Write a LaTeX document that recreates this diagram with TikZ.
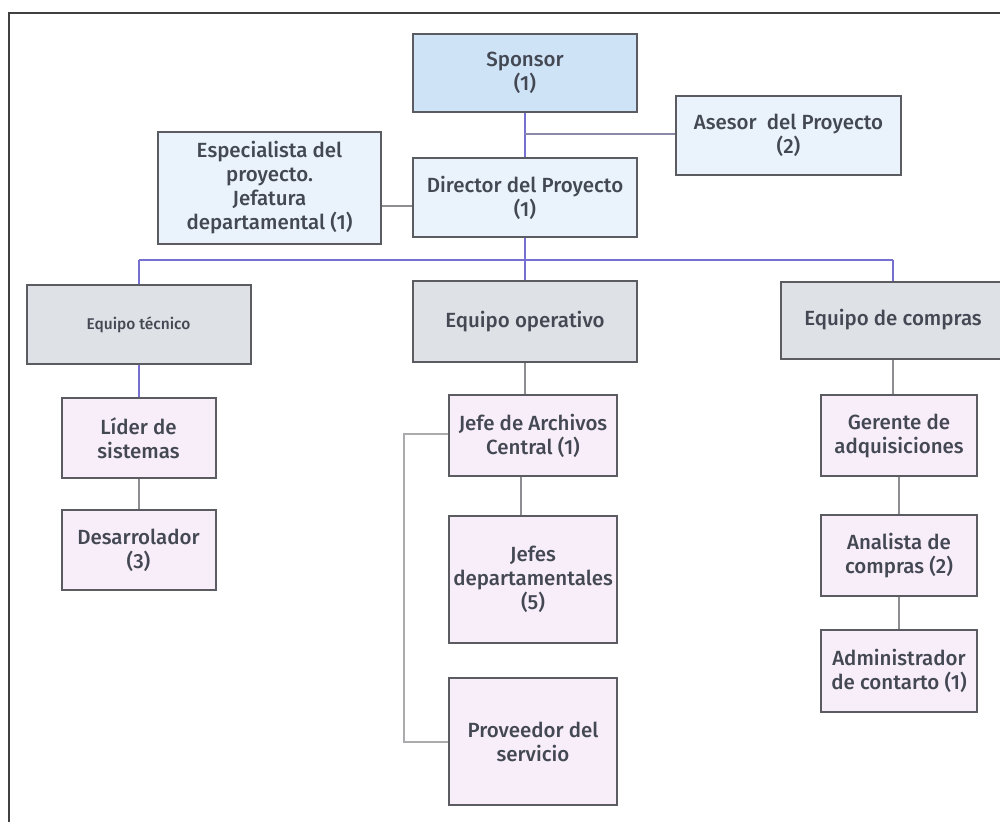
\documentclass[tikz,border=0pt]{standalone}
\usepackage{fontspec}
\setmainfont{Fira Sans}[UprightFont=* Medium, BoldFont=* Bold]
\definecolor{boxline}{HTML}{5A5C62}
\definecolor{txt}{HTML}{434853}
\definecolor{sponsorfill}{HTML}{CFE3F7}
\definecolor{lightblue}{HTML}{EAF3FC}
\definecolor{teamfill}{HTML}{DEE1E6}
\definecolor{pinkfill}{HTML}{F8EEFA}
\definecolor{blueln}{HTML}{7670D2}
\definecolor{greyln}{HTML}{8E8E92}
\definecolor{lightln}{HTML}{ABABAE}
\definecolor{greyblueln}{HTML}{8A8AA8}
\begin{document}
\begin{tikzpicture}[x=1pt,y=-1pt,
  box/.style={draw=boxline, line width=2pt, align=center, inner sep=2pt, text=txt,
    font=\fontsize{20.5}{24}\selectfont},
  sbox/.style={box, fill=sponsorfill},
  lbbox/.style={box, fill=lightblue},
  teambox/.style={box, fill=teamfill},
  pbox/.style={box, fill=pinkfill},
  blueline/.style={draw=blueln, line width=2pt},
  greyline/.style={draw=greyln, line width=2pt},
  lightline/.style={draw=lightln, line width=2pt},
  gbline/.style={draw=greyblueln, line width=2pt},
  frameline/.style={draw=black!75, line width=1.3pt}]
\fill[white] (0,0) rectangle (1000,821);
\useasboundingbox (0,0) rectangle (1000,821);
\draw[frameline] (1001,13) -- (9,13) -- (9,822);

% top level
\node[sbox, minimum width=224pt, minimum height=78pt] (sponsor) at (525,73) {Sponsor\\(1)};
\node[lbbox, minimum width=225pt, minimum height=79pt] (asesor) at (788.5,135.5) {Asesor\ \ del Proyecto\\(2)};
\node[lbbox, minimum width=223pt, minimum height=112pt] (espec) at (269.5,188) {Especialista del\\proyecto.\\Jefatura\\departamental (1)};
\node[lbbox, minimum width=224pt, minimum height=79pt] (director) at (525,197.5) {Director del Proyecto\\(1)};

% teams
\node[teambox, minimum width=224pt, minimum height=79pt, font=\fontsize{15.5}{19}\selectfont] (eqtec) at (138.5,324.5) {Equipo técnico};
\node[teambox, minimum width=224pt, minimum height=81pt] (eqop) at (525,321.5) {Equipo operativo};
\node[teambox, minimum width=224pt, minimum height=77pt] (eqcomp) at (893,320) {Equipo de compras};

% left column
\node[pbox, minimum width=154pt, minimum height=80pt] (lider) at (138.5,438) {Líder de\\sistemas};
\node[pbox, minimum width=154pt, minimum height=80pt] (desarr) at (138.5,550) {Desarrolador\\(3)};

% middle column
\node[pbox, minimum width=168pt, minimum height=81pt] (jefearch) at (533,435.5) {Jefe de Archivos\\Central (1)};
\node[pbox, minimum width=168pt, minimum height=127pt] (jefes) at (533,579.5) {Jefes\\departamentales\\(5)};
\node[pbox, minimum width=168pt, minimum height=127pt] (prov) at (533,741.5) {Proveedor del\\servicio};

% right column
\node[pbox, minimum width=156pt, minimum height=81pt] (gerente) at (899,435.5) {Gerente de\\adquisiciones};
\node[pbox, minimum width=156pt, minimum height=81pt] (analista) at (899,555.5) {Analista de\\compras (2)};
\node[pbox, minimum width=156pt, minimum height=82pt] (admin) at (899,671) {Administrador\\de contarto (1)};

% helper coordinates
\coordinate (asj) at (525,134);
\coordinate (y206) at (0,206);
\coordinate (bus) at (525,260);
\coordinate (busL) at (138.5,260);
\coordinate (busR) at (893,260);
\coordinate (x521) at (521,0);
\coordinate (bkTop) at (404,434);
\coordinate (bkBot) at (404,742);

% connectors
\draw[blueline] (sponsor.south) -- (director.north);
\draw[gbline] (asj) -- (asesor.west |- asj);
\draw[greyline] (espec.east |- y206) -- (director.west |- y206);
\draw[blueline] (director.south) -- (bus);
\draw[blueline] (busL) -- (busR);
\draw[blueline] (busL) -- (eqtec.north);
\draw[blueline] (bus) -- (eqop.north);
\draw[blueline] (busR) -- (eqcomp.north);
\draw[blueline] (eqtec.south) -- (lider.north);
\draw[greyline] (lider.south) -- (desarr.north);
\draw[greyline] (eqop.south) -- (eqop.south |- jefearch.north);
\draw[greyline] (jefearch.south -| x521) -- (jefes.north -| x521);
\draw[lightline] (jefearch.west |- bkTop) -- (bkTop) -- (bkBot) -- (prov.west |- bkBot);
\draw[greyline] (eqcomp.south) -- (eqcomp.south |- gerente.north);
\draw[greyline] (gerente.south) -- (analista.north);
\draw[greyline] (analista.south) -- (admin.north);
\end{tikzpicture}
\end{document}
